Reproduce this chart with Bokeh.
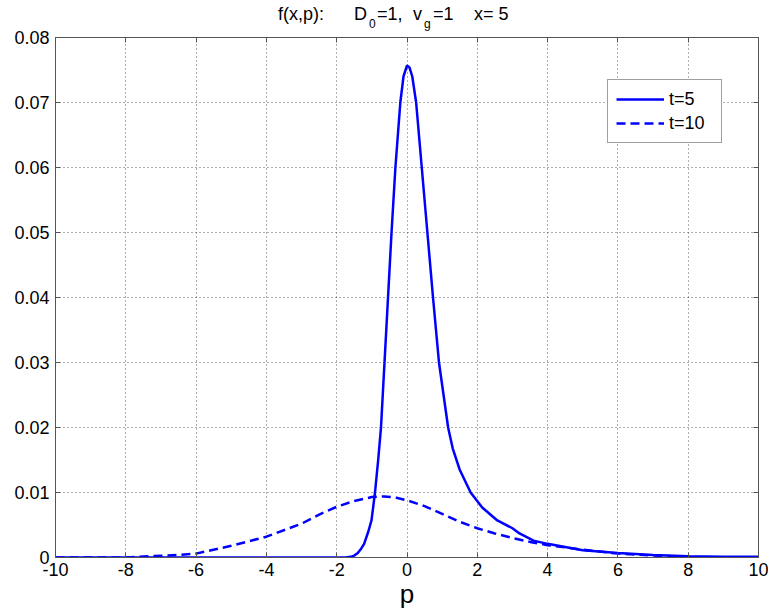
from bokeh.plotting import figure
from bokeh.models import Range1d, FixedTicker, LinearAxis, Legend, LegendItem, Div
from bokeh.layouts import column
from bokeh.embed import file_html
from bokeh.resources import INLINE

# ---------------- data ----------------
p_t5 = [-10, -8, -6, -4, -2, -1.75, -1.6, -1.5, -1.4, -1.3, -1.22, -1.1, -1.01,
        -0.91, -0.82, -0.74, -0.64, -0.54, -0.44, -0.33, -0.19, -0.1, 0.0, 0.07,
        0.15, 0.26, 0.42, 0.58, 0.74, 0.91, 1.17, 1.3, 1.5, 1.81, 2.14, 2.57, 3.0,
        3.2, 3.6, 4.0, 5.0, 6.0, 7.0, 8.0, 9.0, 10.0]
f_t5 = [0, 0, 0, 0, 0, 0, 0.0001, 0.0003, 0.0007, 0.0014, 0.0021, 0.0040, 0.0057,
        0.0100, 0.0150, 0.0200, 0.0300, 0.0400, 0.0500, 0.0600, 0.0700, 0.0740,
        0.0757, 0.0754, 0.0740, 0.0700, 0.0600, 0.0500, 0.0400, 0.0300, 0.0200,
        0.0168, 0.0135, 0.0100, 0.0077, 0.0057, 0.0045, 0.0037, 0.0026, 0.0021,
        0.0011, 0.0007, 0.0004, 0.0002, 0.0001, 0.0001]

p_t10 = [-10, -8, -7.3, -6.5, -6, -5, -4, -3, -2.5, -2.0, -1.5, -1.0, -0.65, -0.3,
         0.0, 0.5, 1.0, 1.5, 2.0, 2.5, 3.0, 3.5, 4.0, 5.0, 6.0, 7.0, 8.0, 9.0, 10.0]
f_t10 = [0, 0, 0.0002, 0.0004, 0.0006, 0.0018, 0.0032, 0.0052, 0.0066, 0.0078,
         0.0087, 0.0093, 0.0094, 0.0092, 0.0088, 0.0079, 0.0067, 0.0055, 0.0045,
         0.0037, 0.0030, 0.0024, 0.0019, 0.0012, 0.0006, 0.0003, 0.0001, 0.0, 0.0]

x_ticks = [-10, -8, -6, -4, -2, 0, 2, 4, 6, 8, 10]
x_tick_labels = ["-10", "-8", "-6", "-4", "-2", "0", "2", "4", "6", "8", "10"]
y_ticks = [0, 0.01, 0.02, 0.03, 0.04, 0.05, 0.06, 0.07, 0.08]
y_tick_labels = ["0", "0.01", "0.02", "0.03", "0.04", "0.05", "0.06", "0.07", "0.08"]
legend_labels = ["t=5", "t=10"]
x_label = "p"
title_parts = ["f(x,p):", "D", "0", "=1,", "v", "g", "=1", "x= 5"]

# ---------------- styling ----------------
FONT = "Liberation Sans"
BLUE = "#0000FF"
AXC = "#555555"
DIV_H = 24
TOTAL_H = 614

p = figure(width=768, height=TOTAL_H - DIV_H, output_backend="svg", toolbar_location=None,
           x_range=Range1d(-10, 10), y_range=Range1d(0, 0.08),
           min_border_left=55, min_border_right=10, min_border_top=37 - DIV_H,
           min_border_bottom=TOTAL_H - 557)
p.background_fill_color = "white"
p.border_fill_color = "white"
p.border_fill_alpha = 0.0
p.outline_line_color = AXC

xt = FixedTicker(ticks=x_ticks)
yt = FixedTicker(ticks=y_ticks)

for ax, ticker, ticks, labels in ((p.xaxis[0], xt, x_ticks, x_tick_labels),
                                  (p.yaxis[0], yt, y_ticks, y_tick_labels)):
    ax.ticker = ticker
    ax.major_label_overrides = dict(zip(ticks, labels))
    ax.major_label_text_font = FONT
    ax.major_label_text_font_size = "18px"
    ax.major_label_text_color = "black"
    ax.major_tick_in = 5
    ax.major_tick_out = 0
    ax.major_tick_line_color = AXC
    ax.minor_tick_line_color = None
    ax.axis_line_color = AXC

p.xaxis[0].major_label_standoff = 5
p.yaxis[0].major_label_standoff = 6
p.xaxis[0].axis_label = x_label
p.xaxis[0].axis_label_text_font = FONT
p.xaxis[0].axis_label_text_font_size = "26px"
p.xaxis[0].axis_label_text_font_style = "normal"
p.xaxis[0].axis_label_text_color = "black"
p.xaxis[0].axis_label_standoff = 0

# box axes on top and right: ticks only, no labels painted
for loc, ticker in (("above", xt), ("right", yt)):
    ax = LinearAxis(ticker=ticker, major_label_text_font_size="1px",
                    major_label_text_color=None,
                    major_label_standoff=0, major_tick_in=5, major_tick_out=0,
                    major_tick_line_color=AXC, minor_tick_line_color=None,
                    axis_line_color=AXC)
    p.add_layout(ax, loc)

p.xgrid.ticker = xt
p.ygrid.ticker = yt
for g in (p.xgrid, p.ygrid):
    g.grid_line_color = "#333333"
    g.grid_line_alpha = 0.8
    g.grid_line_dash = "1 3"
    g.grid_line_width = 1

r1 = p.line(p_t5, f_t5, line_color=BLUE, line_width=2.5)
r2 = p.line(p_t10, f_t10, line_color=BLUE, line_width=2.5, line_dash="9 5")

legend = Legend(items=[LegendItem(label=legend_labels[0], renderers=[r1]),
                       LegendItem(label=legend_labels[1], renderers=[r2])],
                location=(552, 414), padding=8, spacing=2, margin=0,
                glyph_width=48, glyph_height=22, label_standoff=5, label_width=44,
                label_text_font=FONT, label_text_font_size="18px",
                label_text_color="black",
                border_line_color="#404040", border_line_width=1,
                background_fill_color="white", background_fill_alpha=1.0)
p.add_layout(legend)

# title (with real subscripts) in a strip above the plot
pos = [(278, 5, 18), (354, 5, 18), (369, 18, 12), (377, 5, 18),
       (413, 5, 18), (424, 18, 12), (433, 5, 18), (474, 5, 18)]
spans = "".join(
    f'<span style="position:absolute; left:{x}px; top:{y}px; font-size:{s}px; '
    f'line-height:{s}px; white-space:pre;">{t}</span>'
    for t, (x, y, s) in zip(title_parts, pos))
title_div = Div(text=f'<div style="position:relative; width:768px; height:{DIV_H}px; '
                     f'overflow:visible; font-family:\'{FONT}\'; color:black;">{spans}</div>',
                width=768, height=DIV_H, margin=0,
                styles={"overflow": "visible", "z-index": "1"})

layout = column(title_div, p, spacing=0)
open("out.html", "w").write(file_html(layout, INLINE))
